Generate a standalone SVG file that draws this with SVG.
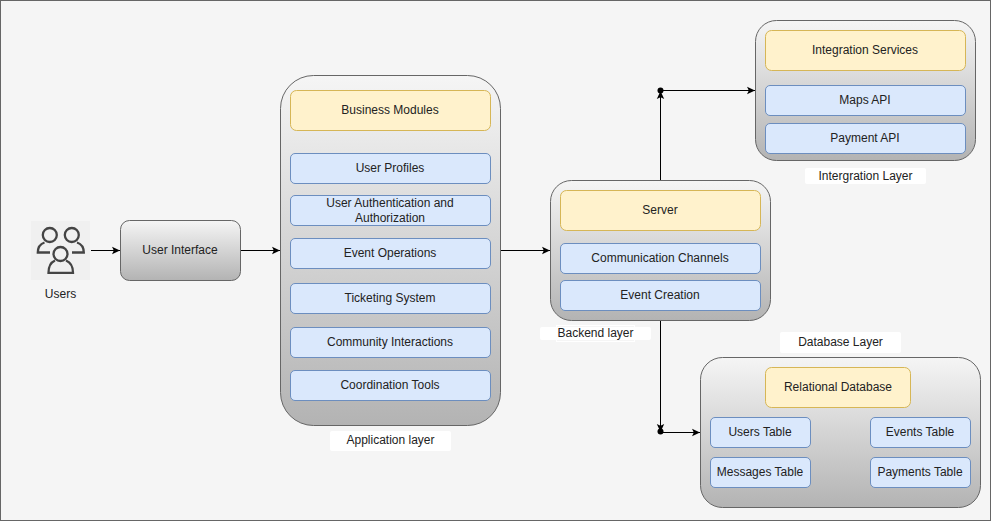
<svg xmlns="http://www.w3.org/2000/svg" width="991" height="521" viewBox="0 0 991 521">
<style>
text{font-family:"Liberation Sans",Arial,sans-serif;font-size:12px;fill:#222;text-anchor:middle}
.c{fill:url(#g);stroke:#666;stroke-width:1}
.y{fill:#fff2cc;stroke:#d6b656;stroke-width:1}
.b{fill:#dae8fc;stroke:#6c8ebf;stroke-width:1}
.l{fill:#fff;stroke:none}
.e{fill:none;stroke:#000;stroke-width:1}
.i{fill:none;stroke:#444;stroke-width:2.300}
</style>
<defs>
<linearGradient id="g" x1="0" y1="0" x2="0" y2="1"><stop offset="0" stop-color="#f5f5f5"/><stop offset="1" stop-color="#b3b3b3"/></linearGradient>
<marker id="a" markerUnits="userSpaceOnUse" markerWidth="10" markerHeight="10" refX="8" refY="4.500" orient="auto"><path d="M0 0.800L8 4.500L0 8.200L1.800 4.500Z" fill="#000"/></marker>
</defs>
<rect x="0.500" y="0.500" width="990" height="520" fill="#f5f5f5" stroke="#666"/>
<g id="connectors">
<path class="e" d="M91 250.500H120" marker-end="url(#a)"/>
<path class="e" d="M241 250.500H280" marker-end="url(#a)"/>
<path class="e" d="M501 250.500H550" marker-end="url(#a)"/>
<path class="e" d="M660.500 180V91" marker-end="url(#a)"/>
<path class="e" d="M660.500 90.500H755" marker-end="url(#a)"/>
<path class="e" d="M660.500 321V432" marker-end="url(#a)"/>
<path class="e" d="M660.500 432.500H700" marker-end="url(#a)"/>
<circle cx="660.500" cy="90.500" r="3" fill="#000"/>
<circle cx="660.500" cy="431.500" r="3" fill="#000"/>
</g>
<g id="users">
<rect x="31" y="221" width="59" height="59" fill="#f0f0f0"/>
<circle class="i" cx="49.800" cy="235" r="7"/>
<circle class="i" cx="71.800" cy="235" r="7"/>
<path class="i" d="M44.500 242.500C40 244 37.800 248 37.800 252.500H50"/>
<path class="i" d="M77 242.500C81.500 244 83.800 248 83.800 252.500H72"/>
<circle class="i" cx="60.500" cy="254" r="7"/>
<path class="i" d="M55 260.500C50.500 262.500 48.500 267 48.500 272.800H73C73 267 71 262.500 66 260.500"/>
<text x="60.500" y="298">Users</text>
</g>
<g id="user-interface">
<rect class="c" x="120.500" y="220.500" width="120" height="60" rx="9"/>
<text x="180" y="254">User Interface</text>
</g>
<g id="application-layer">
<rect class="c" x="280.500" y="75.500" width="220" height="350" rx="33"/>
<rect class="y" x="290.500" y="90.500" width="200" height="40" rx="6"/>
<text x="390" y="114">Business Modules</text>
<rect class="b" x="290.500" y="153.500" width="200" height="30" rx="4.500"/>
<text x="390" y="172">User Profiles</text>
<rect class="b" x="290.500" y="195.500" width="200" height="30" rx="4.500"/>
<text x="390" y="207">User Authentication and</text>
<text x="390" y="222">Authorization</text>
<rect class="b" x="290.500" y="238.500" width="200" height="30" rx="4.500"/>
<text x="390" y="257">Event Operations</text>
<rect class="b" x="290.500" y="283.500" width="200" height="30" rx="4.500"/>
<text x="390" y="302">Ticketing System</text>
<rect class="b" x="290.500" y="327.500" width="200" height="30" rx="4.500"/>
<text x="390" y="346">Community Interactions</text>
<rect class="b" x="290.500" y="370.500" width="200" height="30" rx="4.500"/>
<text x="390" y="389">Coordination Tools</text>
<rect class="l" x="330" y="431" width="121" height="20" rx="2"/>
<text x="390.500" y="444">Application layer</text>
</g>
<g id="backend-layer">
<rect class="c" x="550.500" y="180.500" width="220" height="140" rx="21"/>
<rect class="y" x="560.500" y="190.500" width="200" height="40" rx="6"/>
<text x="660" y="214">Server</text>
<rect class="b" x="560.500" y="243.500" width="200" height="30" rx="4.500"/>
<text x="660" y="262">Communication Channels</text>
<rect class="b" x="560.500" y="280.500" width="200" height="30" rx="4.500"/>
<text x="660" y="299">Event Creation</text>
<rect class="l" x="540" y="327" width="111" height="13" rx="2"/>
<rect x="556.500" y="325.500" width="78" height="16" fill="none" stroke="#fff"/>
<text x="595.500" y="337">Backend layer</text>
</g>
<g id="integration-layer">
<rect class="c" x="755.500" y="20.500" width="220" height="140" rx="21"/>
<rect class="y" x="765.500" y="30.500" width="200" height="40" rx="6"/>
<text x="865" y="54">Integration Services</text>
<rect class="b" x="765.500" y="85.500" width="200" height="30" rx="4.500"/>
<text x="865" y="104">Maps API</text>
<rect class="b" x="765.500" y="123.500" width="200" height="30" rx="4.500"/>
<text x="865" y="142">Payment API</text>
<rect class="l" x="805" y="168" width="121" height="16" rx="2"/>
<text x="865.500" y="180">Intergration Layer</text>
</g>
<g id="database-layer">
<rect class="l" x="780" y="332" width="121" height="21" rx="2"/>
<text x="840.500" y="346">Database Layer</text>
<rect class="c" x="700.500" y="357.500" width="280" height="150" rx="22"/>
<rect class="y" x="765.500" y="367.500" width="145" height="40" rx="6"/>
<text x="838" y="391">Relational Database</text>
<rect class="b" x="710.500" y="417.500" width="100" height="30" rx="4.500"/>
<text x="760" y="436">Users Table</text>
<rect class="b" x="870.500" y="417.500" width="100" height="30" rx="4.500"/>
<text x="920" y="436">Events Table</text>
<rect class="b" x="710.500" y="457.500" width="100" height="30" rx="4.500"/>
<text x="760" y="476">Messages Table</text>
<rect class="b" x="870.500" y="457.500" width="100" height="30" rx="4.500"/>
<text x="920" y="476">Payments Table</text>
</g>
</svg>
